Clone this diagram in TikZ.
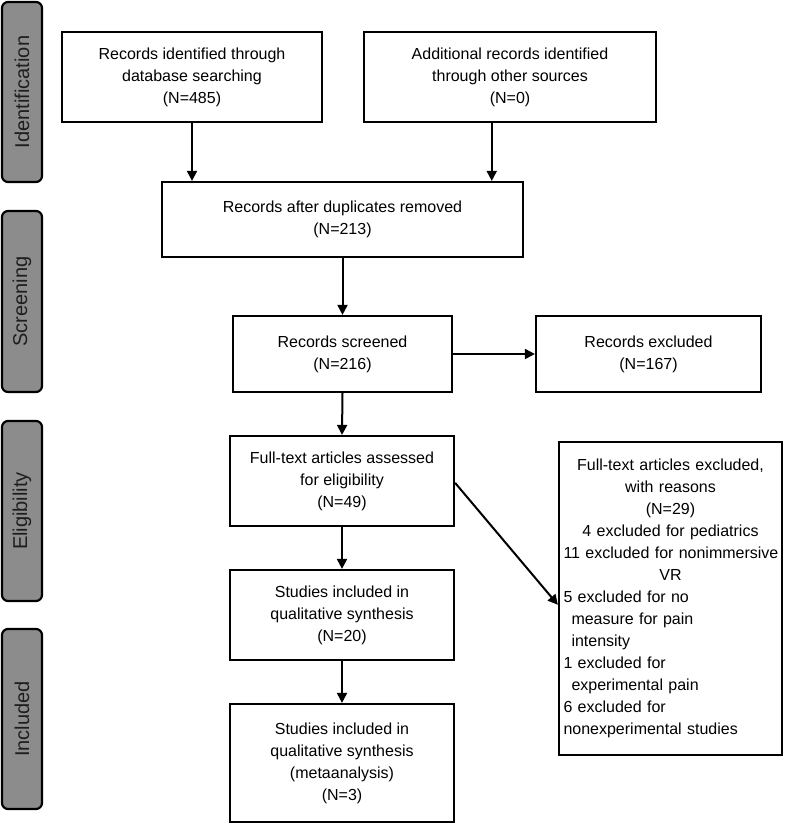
\documentclass[tikz,border=0pt]{standalone}
\usepackage{fontspec}
\setmainfont{Liberation Sans}
\usetikzlibrary{arrows.meta,calc}
\definecolor{stagefill}{RGB}{140,140,140}
\definecolor{stagetext}{RGB}{30,30,30}
\begin{document}
\begin{tikzpicture}[x=1pt,y=-1pt,
  every node/.style={font=\fontsize{16}{22}\selectfont},
  flowbox/.style={draw=black,line width=2.2pt,rectangle,inner sep=0pt,align=center,fill=white},
  stagebox/.style={draw=black,line width=2.2pt,fill=stagefill,rounded corners=6pt,rotate=90,
    minimum height=40pt,inner sep=0pt,text=stagetext,font=\fontsize{20}{24}\selectfont},
  arr/.style={line width=2pt,-{Triangle[length=10pt,width=10pt]}}]
\useasboundingbox (0,0) rectangle (787,827);
\fill[white] (0,0) rectangle (787,827);

% stage labels
\node[stagebox,minimum width=180pt] (sid) at (22,92) {Identification};
\node[stagebox,minimum width=181pt] (ssc) at (22,301.5) {Screening};
\node[stagebox,minimum width=180pt] (sel) at (22,511) {Eligibility};
\node[stagebox,minimum width=180pt] (sin) at (22,719) {Included};

% boxes
\node[flowbox,minimum width=260pt,minimum height=90pt] (b1) at (192,77)
  {Records identified through\\database searching\\(N=485)};
\node[flowbox,minimum width=292pt,minimum height=90pt] (b2) at (510,77)
  {Additional records identified\\through other sources\\(N=0)};
\node[flowbox,minimum width=361pt,minimum height=75pt] (b3) at (342.5,219.5)
  {Records after duplicates removed\\(N=213)};
\node[flowbox,minimum width=219pt,minimum height=76pt] (b4) at (342.5,354)
  {Records screened\\(N=216)};
\node[flowbox,minimum width=225pt,minimum height=76pt] (b5) at (648.5,354)
  {Records excluded\\(N=167)};
\node[flowbox,minimum width=224pt,minimum height=90pt] (b6) at (342,481)
  {Full-text articles assessed\\for eligibility\\(N=49)};
\node[flowbox,minimum width=224pt,minimum height=90pt] (b7) at (342,615)
  {Studies included in\\qualitative synthesis\\(N=20)};
\node[flowbox,minimum width=224pt,minimum height=118pt] (b8) at (342,763)
  {Studies included in\\qualitative synthesis\\(metaanalysis)\\(N=3)};
\node[draw=black,line width=2.2pt,rectangle,inner xsep=4.5pt,inner ysep=0pt,
  minimum height=313pt,text width=214pt,fill=white] (b9) at (670.5,598.5)
  {{\centering Full-text articles excluded,\\with reasons\\(N=29)\\4 excluded for pediatrics\\\mbox{11 excluded for nonimmersive}\\VR\par}%
   {\raggedright 5 excluded for no\\\hspace*{8pt}measure for pain\\\hspace*{8pt}intensity\\1 excluded for\\\hspace*{8pt}experimental pain\\6 excluded for\\nonexperimental studies\par}};

% connectors
\coordinate (a2) at ($(b2.south west)!0.438!(b2.south east)$);
\coordinate (t9) at ($(b9.north west)!0.52!(b9.south west)$);
\coordinate (s6) at ($(b6.north east)!0.52!(b6.south east)$);
\draw[arr] (b1.south) -- (b1.south |- b3.north);
\draw[arr] (a2) -- (a2 |- b3.north);
\draw[arr] (b3.south) -- (b4.north);
\draw[arr] (b4.east) -- (b5.west);
\draw[arr] (b4.south) -- (b6.north);
\draw[arr] (b6.south) -- (b7.north);
\draw[arr] (b7.south) -- (b8.north);
\draw[arr] (s6) -- (t9);
\end{tikzpicture}
\end{document}
